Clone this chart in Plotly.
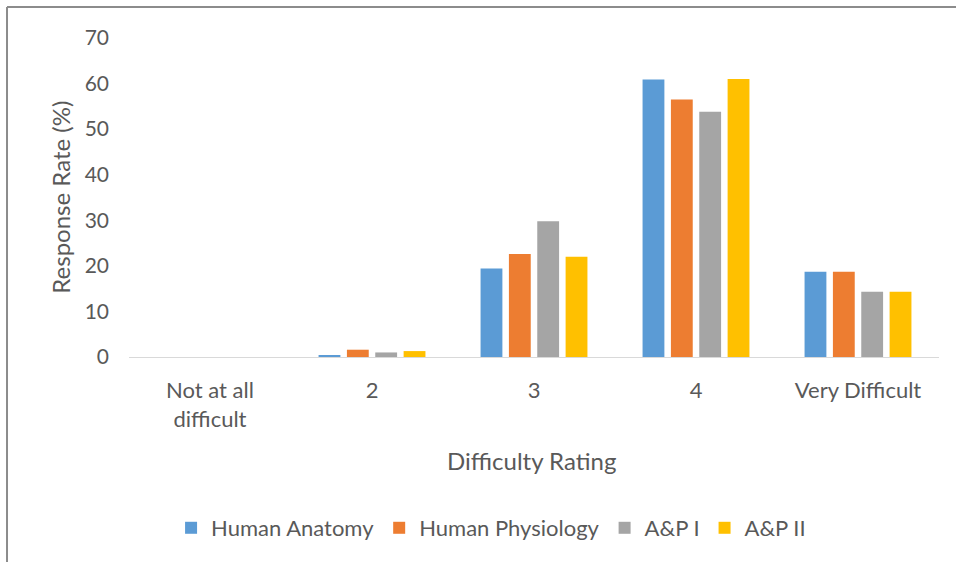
import plotly.graph_objects as go

categories = ["Not at all<br>difficult", "2", "3", "4", "Very Difficult"]
human_anatomy = [0.0, 0.4, 19.4, 60.9, 18.7]
human_physiology = [0.0, 1.6, 22.6, 56.5, 18.7]
ap_one = [0.0, 1.0, 29.8, 53.8, 14.3]
ap_two = [0.0, 1.3, 22.0, 61.0, 14.3]
series_names = ["Human Anatomy", "Human Physiology", "A&P I", "A&P II"]
colors = ["#5B9BD5", "#ED7D31", "#A5A5A5", "#FFC000"]
y_ticks = [0, 10, 20, 30, 40, 50, 60, 70]

FONT = "Lato, 'Open Sans', sans-serif"
TXT = "#595959"

fig = go.Figure()
for name, vals, col in zip(series_names, [human_anatomy, human_physiology, ap_one, ap_two], colors):
    fig.add_trace(go.Bar(x=categories, y=vals, name=name, marker_color=col,
                         marker_line_width=0))

fig.update_layout(
    width=956, height=562,
    paper_bgcolor="white", plot_bgcolor="white",
    margin=dict(l=129, r=17, t=38, b=205),
    barmode="group", bargap=0.30, bargroupgap=0.23,
    font=dict(family=FONT, size=22, color=TXT),
    showlegend=True,
    legend=dict(orientation="h", x=0.447, xanchor="center", y=-0.536, yanchor="middle",
                font=dict(size=22, color=TXT), traceorder="normal", itemwidth=30),
    xaxis=dict(showline=True, linecolor="#D9D9D9", linewidth=1, showgrid=False,
               ticks="", ticklabelstandoff=14, tickfont=dict(size=22, color=TXT)),
    yaxis=dict(range=[0, 70], tickvals=y_ticks, showgrid=False, zeroline=False,
               showline=False, ticks="", ticklabelstandoff=19,
               tickfont=dict(size=21, color=TXT)),
    annotations=[
        dict(text="Response Rate (%)", textangle=-90, xref="paper", yref="paper",
             x=-0.085, y=0.5, xanchor="center", yanchor="middle", showarrow=False,
             font=dict(size=24, color=TXT)),
        dict(text="Difficulty Rating", xref="paper", yref="paper",
             x=0.4975, y=-0.323, xanchor="center", yanchor="middle", showarrow=False,
             font=dict(size=24, color=TXT)),
    ],
    shapes=[
        dict(type="line", xref="paper", yref="paper", x0=-0.1506, x1=1.03, y0=1.0972, y1=1.0972,
             line=dict(color="#8C8C8C", width=2)),
        dict(type="line", xref="paper", yref="paper", x0=-0.1506, x1=-0.1506, y0=1.0972, y1=-0.7,
             line=dict(color="#8C8C8C", width=2)),
    ],
)

fig.write_html("out.html", config={"displayModeBar": False},
               post_script="document.body.style.margin='0';")
